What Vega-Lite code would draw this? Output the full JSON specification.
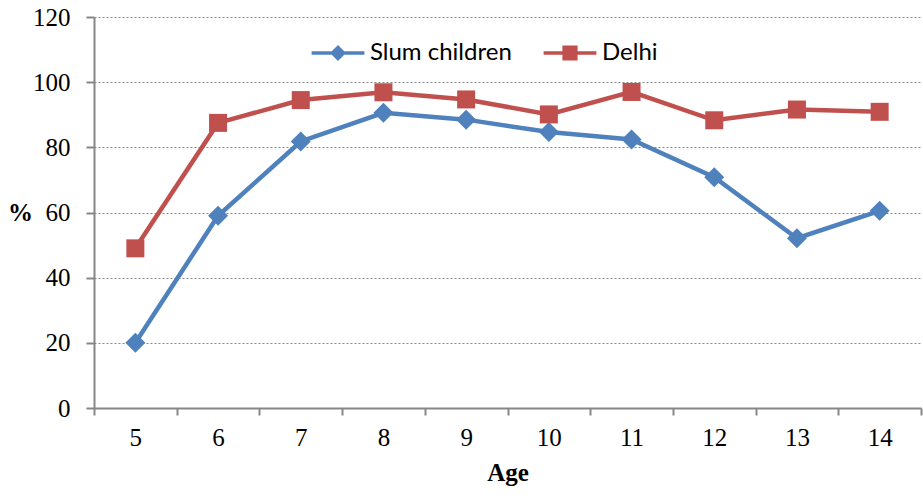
{
  "$schema": "https://vega.github.io/schema/vega-lite/v6.json",
  "width": 827,
  "height": 391,
  "autosize": {"type": "none"},
  "padding": {"left": 94, "top": 17, "right": 2, "bottom": 88},
  "background": "white",
  "config": {"view": {"stroke": null}},
  "data": {
    "values": [
      {"age": 5, "series": "Slum children", "pct": 20},
      {"age": 6, "series": "Slum children", "pct": 59},
      {"age": 7, "series": "Slum children", "pct": 81.8},
      {"age": 8, "series": "Slum children", "pct": 90.6},
      {"age": 9, "series": "Slum children", "pct": 88.5},
      {"age": 10, "series": "Slum children", "pct": 84.7},
      {"age": 11, "series": "Slum children", "pct": 82.4},
      {"age": 12, "series": "Slum children", "pct": 70.8},
      {"age": 13, "series": "Slum children", "pct": 52.1},
      {"age": 14, "series": "Slum children", "pct": 60.5},
      {"age": 5, "series": "Delhi", "pct": 49},
      {"age": 6, "series": "Delhi", "pct": 87.5},
      {"age": 7, "series": "Delhi", "pct": 94.5},
      {"age": 8, "series": "Delhi", "pct": 96.9},
      {"age": 9, "series": "Delhi", "pct": 94.7},
      {"age": 10, "series": "Delhi", "pct": 90.1},
      {"age": 11, "series": "Delhi", "pct": 97},
      {"age": 12, "series": "Delhi", "pct": 88.3},
      {"age": 13, "series": "Delhi", "pct": 91.6},
      {"age": 14, "series": "Delhi", "pct": 90.9}
    ]
  },
  "encoding": {
    "x": {
      "field": "age",
      "type": "ordinal",
      "scale": {"paddingInner": 0, "paddingOuter": 0},
      "axis": {
        "tickBand": "extent",
        "labelAngle": 0,
        "domainColor": "#868686",
        "domainWidth": 2,
        "tickColor": "#868686",
        "tickWidth": 2,
        "tickSize": 7,
        "labelFont": "Liberation Serif",
        "labelFontSize": 25,
        "labelColor": "black",
        "labelPadding": 10,
        "title": "Age",
        "titleFont": "Liberation Serif",
        "titleFontSize": 25,
        "titleFontWeight": "bold",
        "titleColor": "black",
        "titlePadding": 10,
        "grid": false
      }
    },
    "y": {
      "field": "pct",
      "type": "quantitative",
      "scale": {"domain": [0, 120], "nice": false},
      "axis": {
        "values": [0, 20, 40, 60, 80, 100, 120],
        "grid": true,
        "gridDash": [2, 2],
        "gridColor": "#868686",
        "gridWidth": 1,
        "domainColor": "#868686",
        "domainWidth": 2,
        "tickColor": "#868686",
        "tickWidth": 2,
        "tickSize": 8,
        "labelFont": "Liberation Serif",
        "labelFontSize": 25,
        "labelColor": "black",
        "labelPadding": 16,
        "title": "%",
        "titleAngle": 0,
        "titleFont": "Liberation Serif",
        "titleFontSize": 25,
        "titleFontWeight": "bold",
        "titleColor": "black",
        "titleX": -74,
        "titleY": 195,
        "titleAlign": "center",
        "titleBaseline": "middle"
      }
    }
  },
  "layer": [
    {
      "mark": {"type": "line", "strokeWidth": 4.5},
      "encoding": {
        "stroke": {
          "field": "series",
          "type": "nominal",
          "scale": {"domain": ["Delhi", "Slum children"], "range": ["#C0504D", "#4F81BD"]},
          "legend": null
        }
      }
    },
    {
      "transform": [{"filter": "datum.series === 'Slum children'"}],
      "mark": {"type": "point", "filled": true, "shape": "diamond", "size": 400, "opacity": 1, "color": "#4F81BD", "strokeWidth": 0}
    },
    {
      "transform": [{"filter": "datum.series === 'Delhi'"}],
      "mark": {"type": "point", "filled": true, "shape": "square", "size": 324, "opacity": 1, "color": "#C0504D", "strokeWidth": 0}
    },
    {
      "transform": [{"filter": "false"}],
      "mark": {"type": "point", "filled": true, "opacity": 1, "strokeWidth": 0},
      "encoding": {
        "color": {
          "field": "series",
          "type": "nominal",
          "scale": {"domain": ["Slum children", "Delhi"], "range": ["#4F81BD", "#C0504D"]},
          "legend": {
            "title": null,
            "orient": "none",
            "direction": "horizontal",
            "legendX": 232,
            "legendY": 24,
            "labelFont": "Lato",
            "labelFontSize": 24,
            "labelColor": "black",
            "symbolSize": 256,
            "symbolOpacity": 1,
            "labelOffset": 20,
            "columnPadding": 28
          }
        },
        "shape": {
          "field": "series",
          "type": "nominal",
          "scale": {
            "domain": ["Slum children", "Delhi"],
            "range": ["M-3.3,-0.22H3.3V0.22H-3.3ZM0,-1L1,0L0,1L-1,0Z", "M-3.3,-0.22H3.3V0.22H-3.3ZM-0.95,-0.95H0.95V0.95H-0.95Z"]
          }
        }
      }
    }
  ]
}
